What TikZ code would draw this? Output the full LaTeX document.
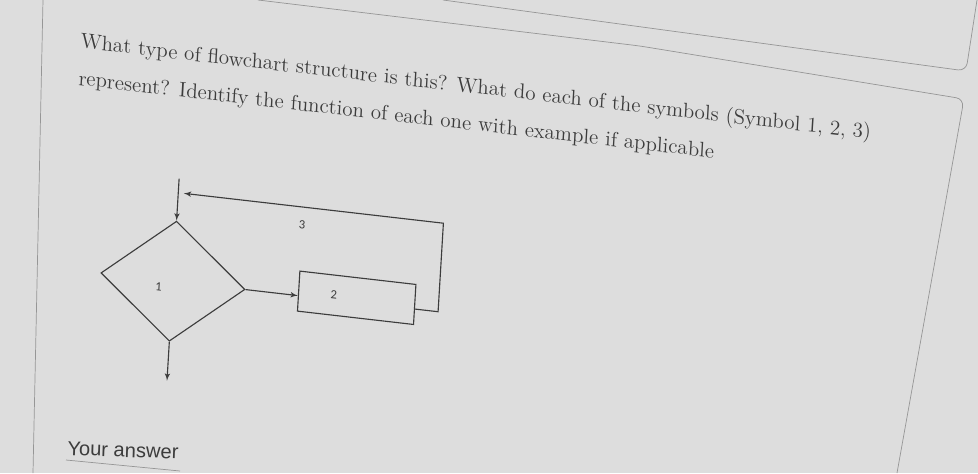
\documentclass[tikz,border=0pt]{standalone}
\usepackage{fontspec}
\newfontfamily\tagfont{Carlito}
\newfontfamily\formfont{Liberation Sans}
\usetikzlibrary{shapes.geometric}
\usetikzlibrary{arrows}
\tikzset{>=latex'}
\definecolor{paper}{RGB}{221,221,221}
\definecolor{ink}{RGB}{60,60,60}
\definecolor{rule}{RGB}{150,150,150}
\tikzstyle{decision} = [draw=ink, diamond, minimum width=3.6cm,
    minimum height=3cm, inner sep=0pt, line width=0.8pt]
\tikzstyle{process} = [draw=ink, rectangle, minimum width=2.9cm,
    minimum height=1cm, line width=0.8pt]
\tikzstyle{tag} = [font=\tagfont\fontsize{9}{10}\selectfont, text=ink, inner sep=0pt]
\tikzstyle{question} = [font=\fontsize{14.9}{16}\selectfont, text=ink,
    inner sep=0pt, anchor=base west]
\tikzstyle{answer} = [font=\formfont\fontsize{14.3}{16}\selectfont, text=ink,
    inner sep=0pt, anchor=base west]
\tikzstyle{flow} = [draw=ink, line width=0.8pt]
\tikzstyle{border} = [draw=rule, line width=0.5pt]

\begin{document}
\begin{tikzpicture}[x=0.025cm, y=-0.025cm]
    % The screen photo: paper colour and the form card borders
    \fill[paper] (0,0) rectangle (978,473);
    \useasboundingbox (0,0) rectangle (978,473);
    \draw[border, rounded corners=0.2cm] (443,0) -- (966,71) -- (977,0);
    \draw[border, rounded corners=0.2cm] (258,0) -- (640,46) -- (964,99) -- (897,473);
    \draw[border] (43,0) -- (33,473);

    % The photo is taken at an angle, so the question is slanted
    \begin{scope}[cm={1,-0.115,0.06,1,(0,0)}, transform shape]
    \node[question] (q1) at (82.3,38.5)
        {What type of flowchart structure is this? What do each of the symbols (Symbol 1, 2, 3)};
    \node[question] (q2) at (82.5,75.5)
        {represent? Identify the function of each one with example if applicable};

    % We start by placing the blocks
    \node[decision] (dec) at (188.5,259.5) {};
    \node[process] (act) at (372,255) {};
    \coordinate (in) at (188.5,157);
    \coordinate (out) at (188.5,359);
    \coordinate (back) at (194,171);
    \node[tag] (n1) at ([shift={(-14,7)}]dec.center) {1};
    \node[tag] (n2) at ([shift={(-23,0)}]act.center) {2};

    % Once the nodes are placed, connecting them is easy.
    \draw[flow,->] (in) -- (dec.north);
    \draw[flow,->] (dec.south) -- (out);
    \draw[flow,->] (dec.east) -- (act.west |- dec.east);
    \draw[flow,->] (act.east |- dec.east) -- ++(23,0)
        |- node[tag, pos=0.77, below=0.33cm] (n3) {3} (back);
    \end{scope}

    \node[answer, rotate=-2] (ans) at (67,455) {Your answer};
    \draw[border] (66,460) -- (180,471);
\end{tikzpicture}
\end{document}
